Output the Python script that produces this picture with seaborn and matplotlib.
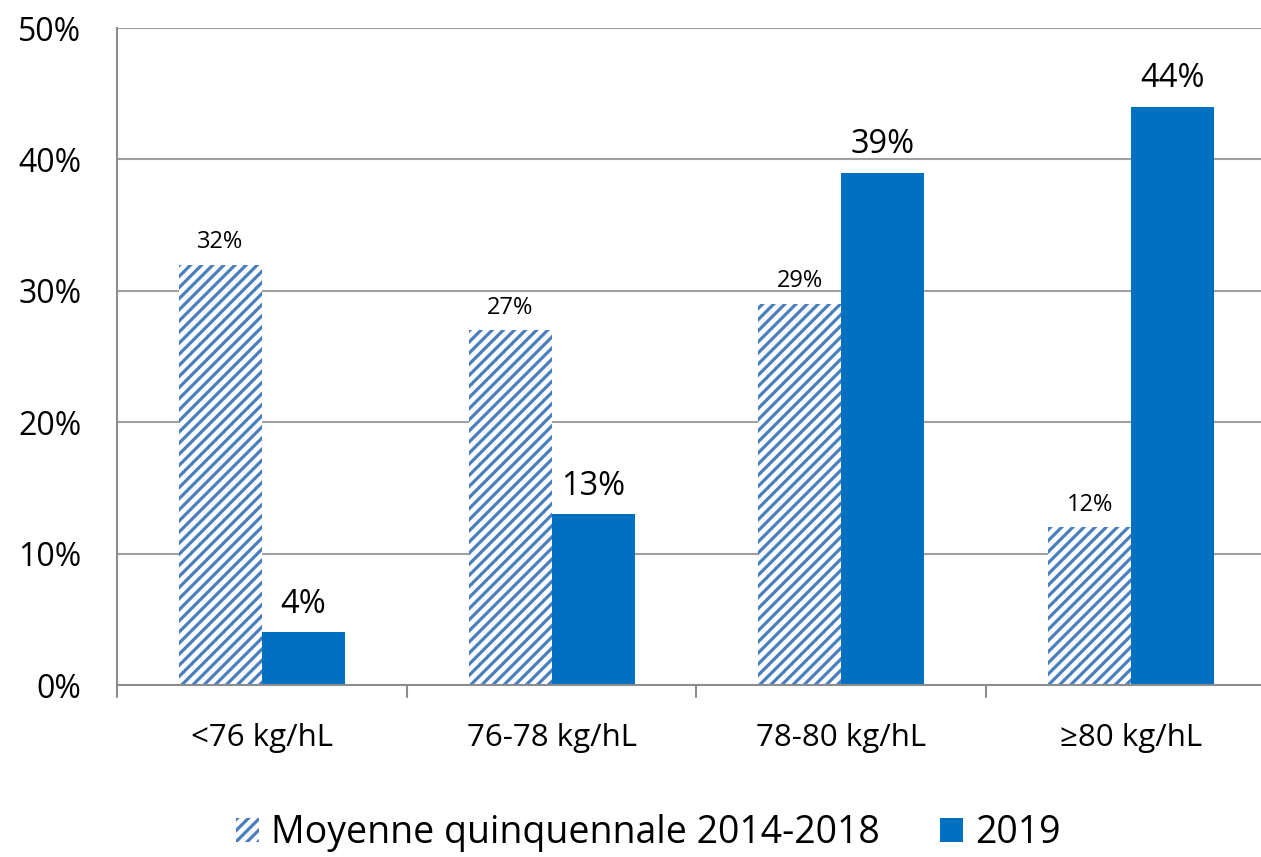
import pandas as pd
import matplotlib
matplotlib.use("Agg")
import matplotlib.pyplot as plt
import seaborn as sns
from matplotlib.patches import Patch

categories = ["<76 kg/hL", "76-78 kg/hL", "78-80 kg/hL", "≥80 kg/hL"]
series = ["Moyenne quinquennale 2014-2018", "2019"]
moyenne = [32, 27, 29, 12]
annee_2019 = [4, 13, 39, 44]

HATCH_COL = "#4a7ebf"
SOLID_COL = "#0070c0"
AXIS_COL = "#8c8c8c"


def main():
    df = pd.DataFrame({
        "classe": categories * 2,
        "serie": [series[0]] * 4 + [series[1]] * 4,
        "valeur": moyenne + annee_2019,
    })

    sns.set_theme(style="white")
    plt.rcParams["font.family"] = ["Open Sans", "DejaVu Sans"]
    plt.rcParams["hatch.linewidth"] = 2.3
    plt.rcParams["text.color"] = "black"
    plt.rcParams["xtick.color"] = AXIS_COL
    plt.rcParams["ytick.color"] = AXIS_COL
    plt.rcParams["xtick.labelcolor"] = "black"
    plt.rcParams["ytick.labelcolor"] = "black"

    fig = plt.figure(figsize=(12.61, 8.57), dpi=100)
    # right edge runs a bit past the image, as in the source chart
    ax = fig.add_axes([0.0928, 0.2007, 0.919, 0.7666])

    sns.barplot(
        data=df, x="classe", y="valeur", hue="serie",
        palette=[HATCH_COL, SOLID_COL], width=0.573, gap=0,
        ax=ax, legend=False, saturation=1,
    )

    n = len(categories)
    for bar in ax.patches[:n]:
        bar.set_facecolor("white")
        bar.set_edgecolor(HATCH_COL)
        bar.set_linewidth(0)
        bar.set_hatch("///")
    for bar in ax.patches[n:2 * n]:
        bar.set_linewidth(0)

    for bar, v in zip(ax.patches[:n], moyenne):
        ax.annotate(f"{v}%", (bar.get_x() + bar.get_width() / 2, v),
                    xytext=(0, 12), textcoords="offset points",
                    ha="center", va="baseline", fontsize=17)
    for bar, v in zip(ax.patches[n:2 * n], annee_2019):
        ax.annotate(f"{v}%", (bar.get_x() + bar.get_width() / 2, v),
                    xytext=(0, 14), textcoords="offset points",
                    ha="center", va="baseline", fontsize=23.5)

    ax.set_ylim(0, 50)
    ax.set_xlim(-0.5, n - 0.5)
    ax.set_yticks(range(0, 51, 10))
    ax.set_yticklabels([f"{t}%" for t in range(0, 51, 10)], fontsize=23)
    ax.set_xticks(range(n))
    ax.set_xticklabels(categories, fontsize=22.5)
    ax.tick_params(axis="x", length=0, pad=27)
    ax.tick_params(axis="y", length=8.6, width=1.1, pad=17)
    ax.set_xlabel("")
    ax.set_ylabel("")

    for y in range(10, 51, 10):
        ax.axhline(y, color="#a0a0a0", lw=1.5, zorder=0)
    ax.set_axisbelow(True)

    for s in ["top", "right"]:
        ax.spines[s].set_visible(False)
    for s in ["left", "bottom"]:
        ax.spines[s].set_color(AXIS_COL)
        ax.spines[s].set_linewidth(1.5)

    # category boundary ticks on x axis
    for xb in [x - 0.5 for x in range(n + 1)]:
        ax.plot([xb, xb], [0, -0.018], transform=ax.get_xaxis_transform(),
                color=AXIS_COL, lw=1.5, clip_on=False)

    handles = [
        Patch(facecolor="white", edgecolor=HATCH_COL, hatch="///", lw=0, label=series[0]),
        Patch(facecolor=SOLID_COL, lw=0, label=series[1]),
    ]
    fig.legend(handles=handles, loc="center", bbox_to_anchor=(0.514, 0.028),
               ncol=2, frameon=False, fontsize=27, handlelength=0.62,
               handleheight=0.62, handletextpad=0.32, columnspacing=1.6)

    fig.savefig("out.png", dpi=100)
    plt.close(fig)


if __name__ == "__main__":
    main()
